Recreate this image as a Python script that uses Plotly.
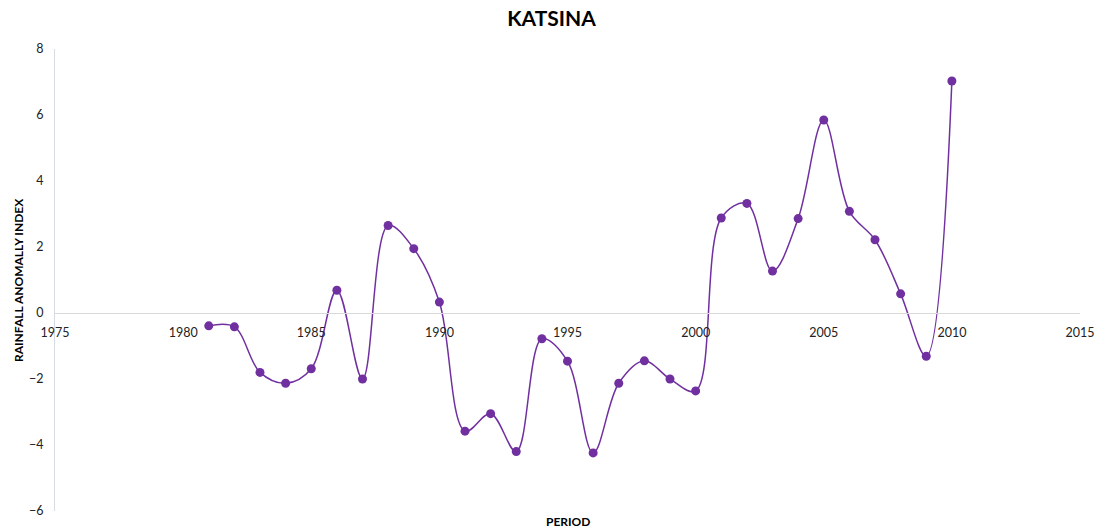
import plotly.graph_objects as go

years = list(range(1981, 2011))
rai = [
    -0.39, -0.42, -1.80, -2.13, -1.69, 0.69, -2.00, 2.65, 1.95, 0.33,
    -3.58, -3.05, -4.20, -0.78, -1.46, -4.24, -2.13, -1.45, -2.00, -2.36,
    2.88, 3.32, 1.27, 2.86, 5.85, 3.08, 2.22, 0.58, -1.31, 7.03,
]

x_ticks = [1975, 1980, 1985, 1990, 1995, 2000, 2005, 2010, 2015]
y_ticks = [-6, -4, -2, 0, 2, 4, 6, 8]

purple = "#7030a0"
font = "Lato, 'Open Sans', sans-serif"

fig = go.Figure()
fig.add_trace(
    go.Scatter(
        x=years,
        y=rai,
        mode="lines+markers",
        line={"color": purple, "width": 1.5, "shape": "spline", "smoothing": 1},
        marker={"color": purple, "size": 9},
        showlegend=False,
    )
)

fig.update_layout(
    width=1103,
    height=529,
    margin={"l": 55, "r": 23, "t": 49, "b": 18},
    paper_bgcolor="white",
    plot_bgcolor="white",
    font={"family": font, "size": 12, "color": "#222"},
    title={
        "text": "<b>KATSINA</b>",
        "x": 0.5,
        "xanchor": "center",
        "y": 1 - 19 / 529,
        "yanchor": "middle",
        "font": {"size": 21, "color": "#000"},
    },
    xaxis={
        "range": [1975, 2015],
        "tickvals": x_ticks,
        "ticktext": [str(v) for v in x_ticks],
        "anchor": "free",
        "position": 6 / 14,
        "showline": True,
        "linecolor": "#d9d9d9",
        "linewidth": 1,
        "showgrid": False,
        "zeroline": False,
        "ticks": "",
        "ticklabelstandoff": 8,
        "automargin": False,
        "tickfont": {"size": 12.5, "color": "#222"},
    },
    yaxis={
        "range": [-6, 8],
        "tickvals": y_ticks,
        "showline": True,
        "linecolor": "#d6dce5",
        "linewidth": 1,
        "showgrid": False,
        "zeroline": False,
        "ticks": "",
        "ticklabelstandoff": 8,
        "automargin": False,
        "tickfont": {"size": 12.5, "color": "#222"},
    },
    annotations=[
        {
            "text": "<b>PERIOD</b>",
            "xref": "paper",
            "yref": "paper",
            "x": 0.5,
            "y": -(521 - 511) / 462,
            "xanchor": "center",
            "yanchor": "middle",
            "showarrow": False,
            "font": {"size": 12, "color": "#000"},
        },
        {
            "text": "<b>RAINFALL ANOMALLY INDEX</b>",
            "xref": "paper",
            "yref": "paper",
            "x": -(55 - 18) / 1025,
            "y": 0.5,
            "xanchor": "center",
            "yanchor": "middle",
            "textangle": -90,
            "showarrow": False,
            "font": {"size": 12, "color": "#000"},
        },
    ],
)

fig.write_html(
    "out.html",
    config={"displayModeBar": False},
    post_script="document.body.style.margin='0';",
)
